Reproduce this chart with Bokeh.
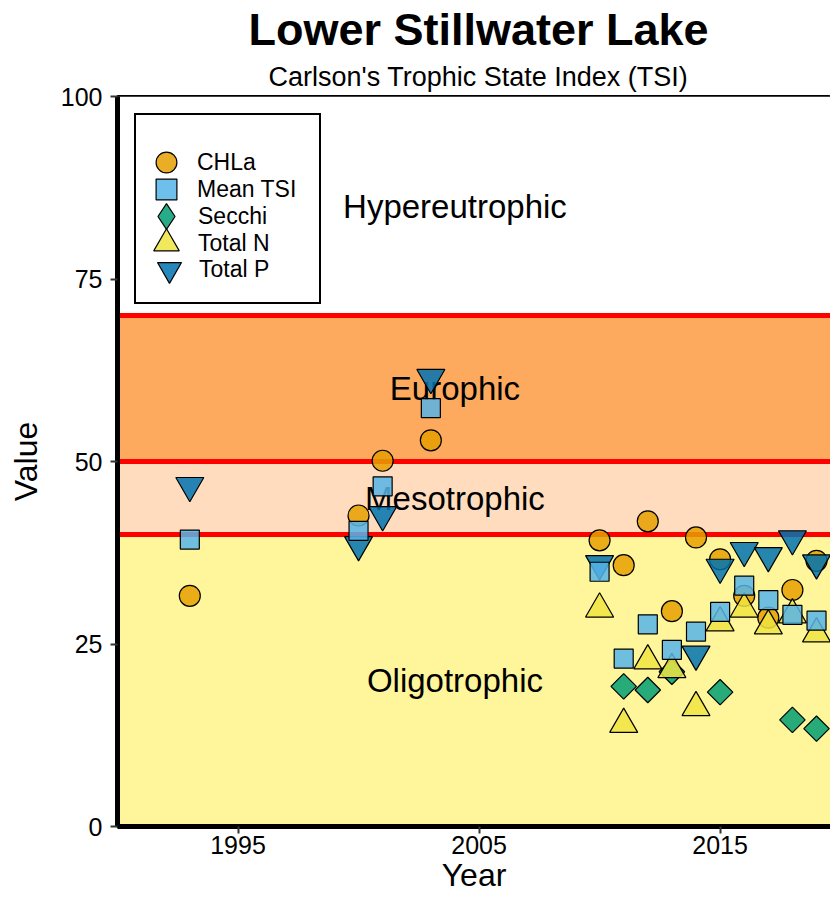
import math
from bokeh.plotting import figure
from bokeh.models import (ColumnDataSource, Legend, LegendItem, BoxAnnotation, Span,
                          Title, FixedTicker, Range1d)
from bokeh.core.properties import value
from bokeh.embed import file_html
from bokeh.resources import INLINE

FONT = "Liberation Sans"

# ---------------- data ----------------
chla_years = [1993, 2000, 2001, 2003, 2010, 2011, 2012, 2013, 2014, 2015, 2016, 2017, 2018, 2019]
chla_vals = [31.6, 42.6, 50.1, 52.9, 39.2, 35.8, 41.8, 29.5, 39.6, 36.6, 31.6, 28.6, 32.4, 36.4]

meantsi_years = [1993, 2000, 2001, 2003, 2010, 2011, 2012, 2013, 2014, 2015, 2016, 2017, 2018, 2019]
meantsi_vals = [39.3, 40.5, 46.6, 57.3, 34.9, 23.0, 27.7, 24.2, 26.7, 29.4, 33.0, 31.0, 29.0, 28.2]

secchi_years = [2011, 2012, 2013, 2015, 2018, 2019]
secchi_vals = [19.2, 18.7, 21.2, 18.4, 14.6, 13.4]

totaln_years = [2010, 2011, 2012, 2013, 2014, 2015, 2016, 2017, 2018, 2019]
totaln_vals = [29.8, 14.0, 22.7, 21.5, 16.3, 27.9, 29.8, 27.5, 29.0, 26.4]

totalp_years = [1993, 2000, 2001, 2003, 2010, 2014, 2015, 2016, 2017, 2018, 2019]
totalp_vals = [46.7, 38.6, 42.7, 61.5, 36.0, 23.6, 35.5, 37.8, 37.1, 39.4, 36.1]

band_names = ["Oligotrophic", "Mesotrophic", "Europhic", "Hypereutrophic"]
band_bottom = [0, 40, 50, 70]
band_top = [40, 50, 70, 100]
band_colors = ["#FFF59B", "#FFDCBE", "#FDAA5E", "#FFFFFF"]
band_label_x = [2004, 2004, 2004, 2004]
band_label_y = [20, 45, 60, 85]
boundaries = [40, 50, 70]

x_ticks = [1995, 2005, 2015]
y_ticks = [0, 25, 50, 75, 100]
x_limits = [1990, 2019.58]
y_limits = [0, 100]

title_text = "Lower Stillwater Lake"
subtitle_text = "Carlson's Trophic State Index (TSI)"

# ---------------- figure ----------------
p = figure(width=830, height=895, output_backend="svg", toolbar_location=None,
           x_range=Range1d(*x_limits), y_range=Range1d(*y_limits),
           title_location=None,
           min_border_left=117, min_border_right=0, min_border_top=0, min_border_bottom=0,
           x_axis_label="Year", y_axis_label="Value")

p.add_layout(Title(text=subtitle_text, text_font=FONT, text_font_size="27px",
                   text_font_style="normal", align="left", offset=151, text_color="black",
                   standoff=9), "above")
p.add_layout(Title(text=title_text, text_font=FONT, text_font_size="45px",
                   text_font_style="bold", align="left", offset=131, text_color="black",
                   standoff=2), "above")

p.grid.visible = False
p.background_fill_color = "white"
p.border_fill_color = "white"
p.outline_line_color = "black"
p.outline_line_width = 3

# bands
for b, t, c in zip(band_bottom, band_top, band_colors):
    p.add_layout(BoxAnnotation(bottom=b, top=t, fill_color=c, fill_alpha=1.0,
                               line_alpha=0, level="underlay"))
for yb in boundaries:
    p.add_layout(Span(location=yb, dimension="width", line_color="#FF0000",
                      line_width=5, level="underlay"))

band_src = ColumnDataSource(dict(x=band_label_x, y=band_label_y, name=band_names))
p.text(x="x", y="y", text="name", source=band_src, text_font=value(FONT),
       text_font_size="33px", text_align="center", text_baseline="middle",
       text_color="black")

# points
LW = 1.2
FA = 0.85
COLORS = {"CHLa": "#E69F00", "Mean TSI": "#56B4E9", "Secchi": "#009E73",
          "Total N": "#F0E442", "Total P": "#0072B2"}
r_chla = p.scatter(chla_years, chla_vals, marker="circle", size=21,
                   fill_color=COLORS["CHLa"], fill_alpha=FA, line_color="black", line_width=LW)
r_secchi = p.scatter(secchi_years, secchi_vals, marker="square", size=18, angle=math.pi / 4,
                     fill_color=COLORS["Secchi"], fill_alpha=FA, line_color="black", line_width=LW)
r_tp = p.scatter(totalp_years, totalp_vals, marker="inverted_triangle", size=28,
                 fill_color=COLORS["Total P"], fill_alpha=FA, line_color="black", line_width=LW)
r_tn = p.scatter(totaln_years, totaln_vals, marker="triangle", size=28,
                 fill_color=COLORS["Total N"], fill_alpha=FA, line_color="black", line_width=LW)
r_mean = p.scatter(meantsi_years, meantsi_vals, marker="square", size=19,
                   fill_color=COLORS["Mean TSI"], fill_alpha=FA, line_color="black", line_width=LW)
# legend key for Secchi drawn as a diamond (no visible data)
r_secchi_key = p.scatter([float("nan")], [float("nan")], marker="diamond", size=18,
                         fill_color=COLORS["Secchi"], fill_alpha=FA, line_color="black",
                         line_width=LW)

# ---- legend: one framed box, keys spaced like the reference ----
legend_labels = ["CHLa", "Mean TSI", "Secchi", "Total N", "Total P"]
legend_renderers = [r_chla, r_mean, r_secchi_key, r_tn, r_tp]
legend_glyph = [52, 52, 64, 64, 60]
ROW = 27

def make_legend(i, label, rend, g, framed):
    if framed:
        margin, pad, standoff = 17, 3, 0
        ts = 180 - 11 - margin - pad - g // 2 + ROW * (i - 4)
    else:
        standoff = max(0, 31 - g // 2)
        mp = 54 - g // 2
        pad = 5
        margin = mp - pad
        ts = 69 + ROW * i - mp - g // 2
    return Legend(items=[LegendItem(label=label, renderers=[rend])],
                  location="top_left", margin=margin, padding=pad, spacing=0,
                  glyph_width=g, glyph_height=g, label_standoff=standoff,
                  label_width=(117 if framed else 20),
                  label_text_font=FONT, label_text_font_size="23px",
                  label_text_color="black",
                  title=" ", title_text_font_size="2px", title_standoff=ts,
                  border_line_color=("black" if framed else None),
                  border_line_width=2, border_line_alpha=1.0,
                  background_fill_color="white",
                  background_fill_alpha=(1.0 if framed else 0.0))

n = len(legend_labels)
p.add_layout(make_legend(n - 1, legend_labels[-1], legend_renderers[-1], legend_glyph[-1], True))
for i in range(n - 1):
    p.add_layout(make_legend(i, legend_labels[i], legend_renderers[i], legend_glyph[i], False))

# axes
for ax in (p.xaxis, p.yaxis):
    ax.axis_line_color = "black"
    ax.axis_line_width = 5
    ax.major_tick_line_color = "#333333"
    ax.major_tick_line_width = 2
    ax.major_tick_out = 7
    ax.major_tick_in = 0
    ax.minor_tick_line_color = None
    ax.major_label_text_font = FONT
    ax.major_label_text_font_size = "25px"
    ax.major_label_text_color = "black"
    ax.axis_label_text_font = FONT
    ax.axis_label_text_font_size = "32px"
    ax.axis_label_text_font_style = "normal"
    ax.axis_label_text_color = "black"

p.xaxis.ticker = FixedTicker(ticks=x_ticks)
p.yaxis.ticker = FixedTicker(ticks=y_ticks)
p.xaxis.major_label_standoff = 2
p.yaxis.major_label_standoff = 8
p.xaxis.axis_label_standoff = 0
p.yaxis.axis_label_standoff = 14

open("out.html", "w").write(file_html(p, INLINE))
